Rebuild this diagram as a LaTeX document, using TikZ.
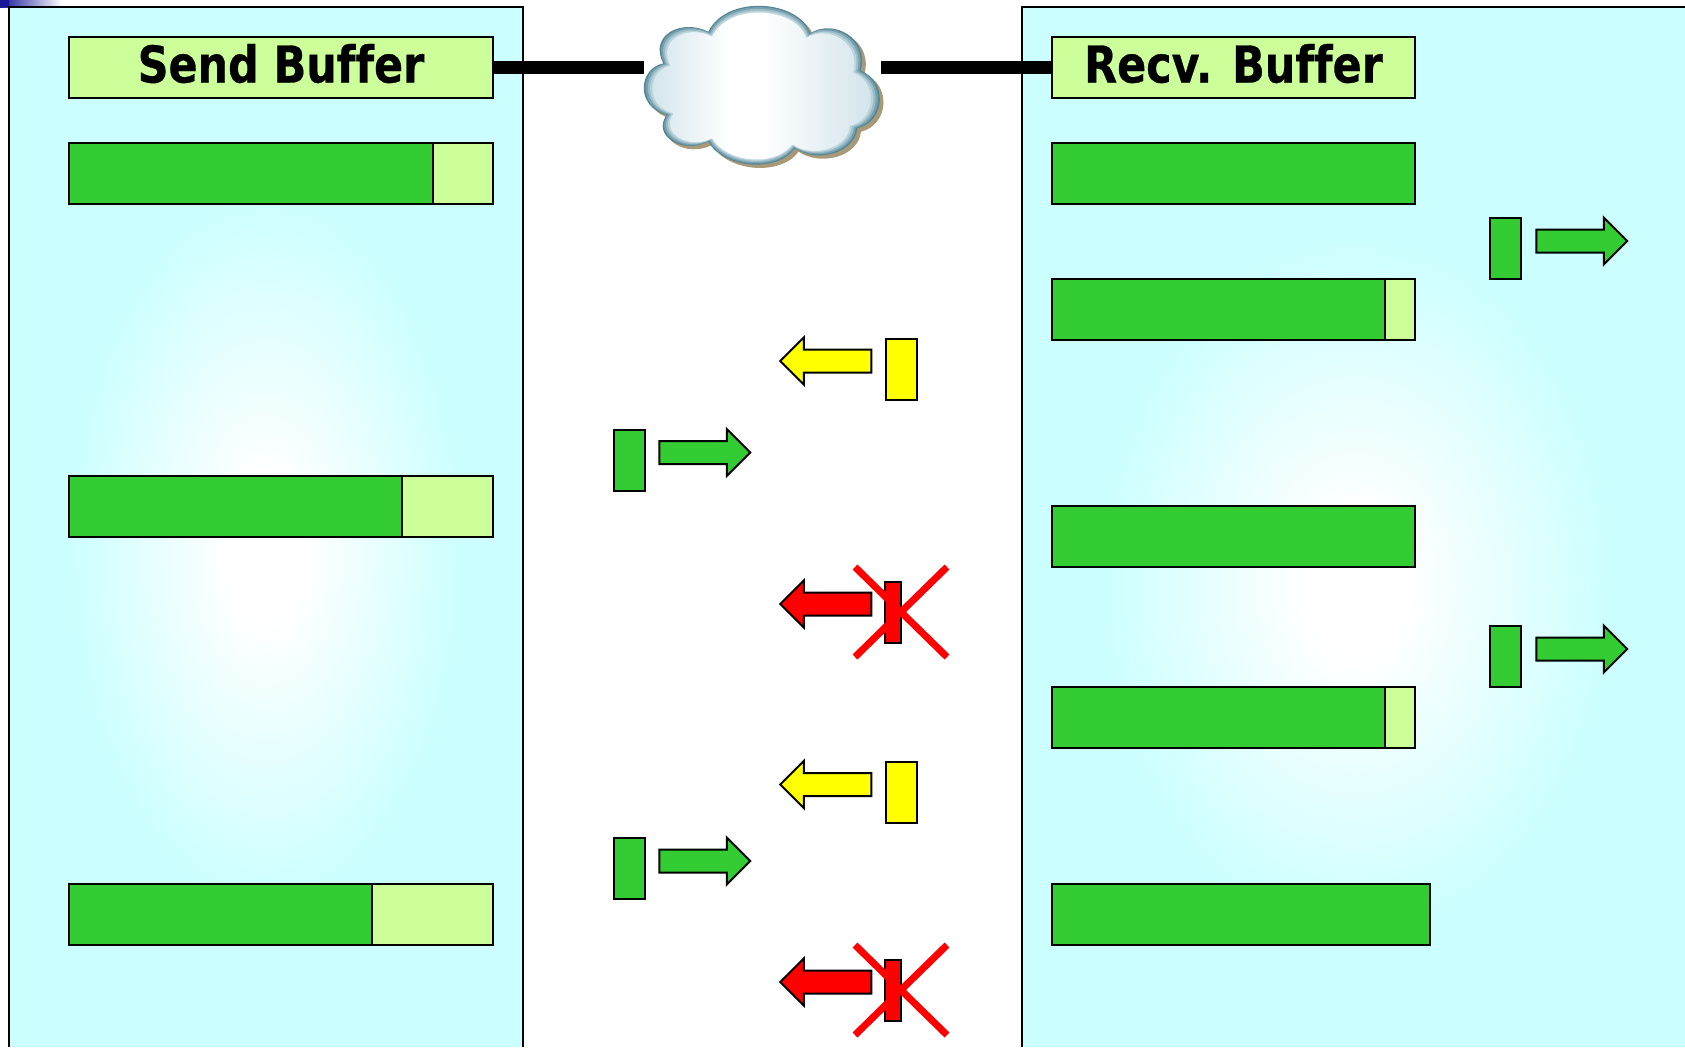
\documentclass[tikz,border=0pt]{standalone}
\usepackage{fontspec}
\newfontfamily\tahfont[FakeStretch=0.845,BoldFeatures={FakeBold=0.6},Ligatures=NoCommon]{DejaVu Sans}
\usetikzlibrary{shapes.arrows}
\definecolor{panelc}{HTML}{CCFFFF}
\definecolor{barg}{HTML}{33CC33}
\definecolor{barl}{HTML}{CCFF99}
\definecolor{yel}{HTML}{FFFF00}
\definecolor{redc}{HTML}{FF0000}
\definecolor{cloudedge}{RGB}{208,227,234}
\pgfdeclareradialshading{glowsh}{\pgfpoint{0bp}{0bp}}{color(0bp)=(white); color(5bp)=(white); color(25bp)=(panelc); color(50bp)=(panelc)}
\pgfdeclarehorizontalshading{cloudsh}{100bp}{color(0bp)=(cloudedge); color(25bp)=(cloudedge); color(43bp)=(white); color(50bp)=(white); color(75bp)=(cloudedge); color(100bp)=(cloudedge)}
\def\cloudP{(130,190) .. controls (55,205) and (45,320) .. (140,345)
 .. controls (95,405) and (185,465) .. (265,425)
 .. controls (310,505) and (470,520) .. (525,445)
 .. controls (590,490) and (705,460) .. (712,385)
 .. controls (795,365) and (805,245) .. (722,212)
 .. controls (750,115) and (640,55) .. (570,100)
 .. controls (540,0) and (320,-18) .. (265,95)
 .. controls (185,55) and (85,105) .. (130,190) -- cycle}
\tikzset{
 x=1pt,y=-1pt,
 every node/.style={inner sep=0pt,outer sep=0pt},
 block/.style={draw=black,line width=2pt,anchor=north west,minimum height=61pt},
 headerbox/.style={block,fill=barl,font=\tahfont\bfseries\fontsize{50.7}{55}\selectfont,text height=37pt,text depth=7pt,text=black},
 fullbar/.style={block,fill=barg},
 freebar/.style={block,fill=barl},
 pkt/.style={draw=black,line width=2pt,anchor=north west,minimum height=61pt,minimum width=31pt},
 arr/.style={single arrow,draw=black,line width=2pt,minimum height=91pt,minimum width=45pt,
   single arrow head extend=12pt,single arrow head indent=0pt,inner sep=10.5pt},
 rarr/.style={arr,shape border rotate=0},
 larr/.style={arr,shape border rotate=180},
 link/.style={line width=13pt,draw=black},
 cross/.style={draw=redc,line width=7pt},
 glow/.style={shading=glowsh,draw=none}
}
\begin{document}
\begin{tikzpicture}
\useasboundingbox (0,0) rectangle (1685,1047);
% corner accent
\shade[left color=blue!55!black!90,right color=white,draw=none] (0,0) rectangle (62,7);
\fill[blue!55!black!90] (0,0) rectangle (9,7);
% panels
\fill[panelc] (9,7) rectangle (523,1047);
\shade[glow] (70,200) rectangle (462,900);
\draw[line width=2pt] (9,1047) -- (9,7) -- (523,7) -- (523,1047);
\fill[panelc] (1022,7) rectangle (1685,1047);
\shade[glow] (1100,240) rectangle (1610,930);
\draw[line width=2pt] (1022,1047) -- (1022,7) -- (1685,7);
% headers
\node[headerbox,minimum width=424pt] (sendhdr) at (69,37) {Send Buffer};
\node[headerbox,minimum width=363pt] (recvhdr) at (1052,37) {Recv. Buffer};
% cloud anchor and links
\node[minimum width=237pt,minimum height=161pt] (cloud) at (762.5,86.5) {};
\draw[link] (sendhdr.east) -- (sendhdr.east -| cloud.west);
\draw[link] (recvhdr.west) -- (recvhdr.west -| cloud.east);
% cloud
\begin{scope}[shift={(620,0)},scale=0.33333]
\fill[color={rgb,255:red,168;green,154;blue,120}] [shift={(11,10)}] \cloudP;
\fill[color={rgb,255:red,84;green,134;blue,150}] \cloudP;
\fill[color={rgb,255:red,118;green,160;blue,174},scale around={0.985:(425,270)}] \cloudP;
\fill[color={rgb,255:red,155;green,188;blue,199},scale around={0.965:(422,278)}] \cloudP;
\fill[color={rgb,255:red,187;green,212;blue,220},scale around={0.945:(420,284)}] \cloudP;
\shade[shading=cloudsh,scale around={0.925:(418,288)}] \cloudP;
\end{scope}
% send buffer bars
\node[fullbar,minimum width=364pt] (s1a) at (69,143) {};
\node[freebar,minimum width=60pt] (s1b) at (433,143) {};
\node[fullbar,minimum width=333pt] (s2a) at (69,476) {};
\node[freebar,minimum width=91pt] (s2b) at (402,476) {};
\node[fullbar,minimum width=303pt] (s3a) at (69,884) {};
\node[freebar,minimum width=121pt] (s3b) at (372,884) {};
% receive buffer bars
\node[fullbar,minimum width=363pt] (r1) at (1052,143) {};
\node[fullbar,minimum width=333pt] (r2a) at (1052,278.5) {};
\node[freebar,minimum width=30pt] (r2b) at (1385,278.5) {};
\node[fullbar,minimum width=363pt] (r3) at (1052,505.5) {};
\node[fullbar,minimum width=333pt] (r4a) at (1052,687) {};
\node[freebar,minimum width=30pt] (r4b) at (1385,687) {};
\node[fullbar,minimum width=378pt] (r5) at (1052,884) {};
% delivered packets
\node[pkt,fill=barg] (d1) at (1490,218) {};
\node[rarr,fill=barg] (da1) at (1576,241) {};
\node[pkt,fill=barg] (d2) at (1490,626) {};
\node[rarr,fill=barg] (da2) at (1576,649) {};
% data packets
\node[pkt,fill=barg] (p1) at (614,430) {};
\node[rarr,fill=barg] (pa1) at (699,452.5) {};
\node[pkt,fill=barg] (p2) at (614,838) {};
\node[rarr,fill=barg] (pa2) at (699,861) {};
% acks
\node[pkt,fill=yel] (y1) at (886,339) {};
\node[larr,fill=yel] (ya1) at (831.5,361) {};
\node[pkt,fill=yel] (y2) at (886,762) {};
\node[larr,fill=yel] (ya2) at (831.5,784.5) {};
% lost acks
\node[pkt,fill=redc,minimum width=16pt] (x1) at (885,582) {};
\node[larr,fill=redc] (xa1) at (831.5,604) {};
\draw[cross] (855,567) -- (947,657);
\draw[cross] (947,567) -- (855,657);
\node[pkt,fill=redc,minimum width=16pt] (x2) at (885,960) {};
\node[larr,fill=redc] (xa2) at (831.5,982) {};
\draw[cross] (855,945) -- (947,1035);
\draw[cross] (947,945) -- (855,1035);
\end{tikzpicture}
\end{document}
